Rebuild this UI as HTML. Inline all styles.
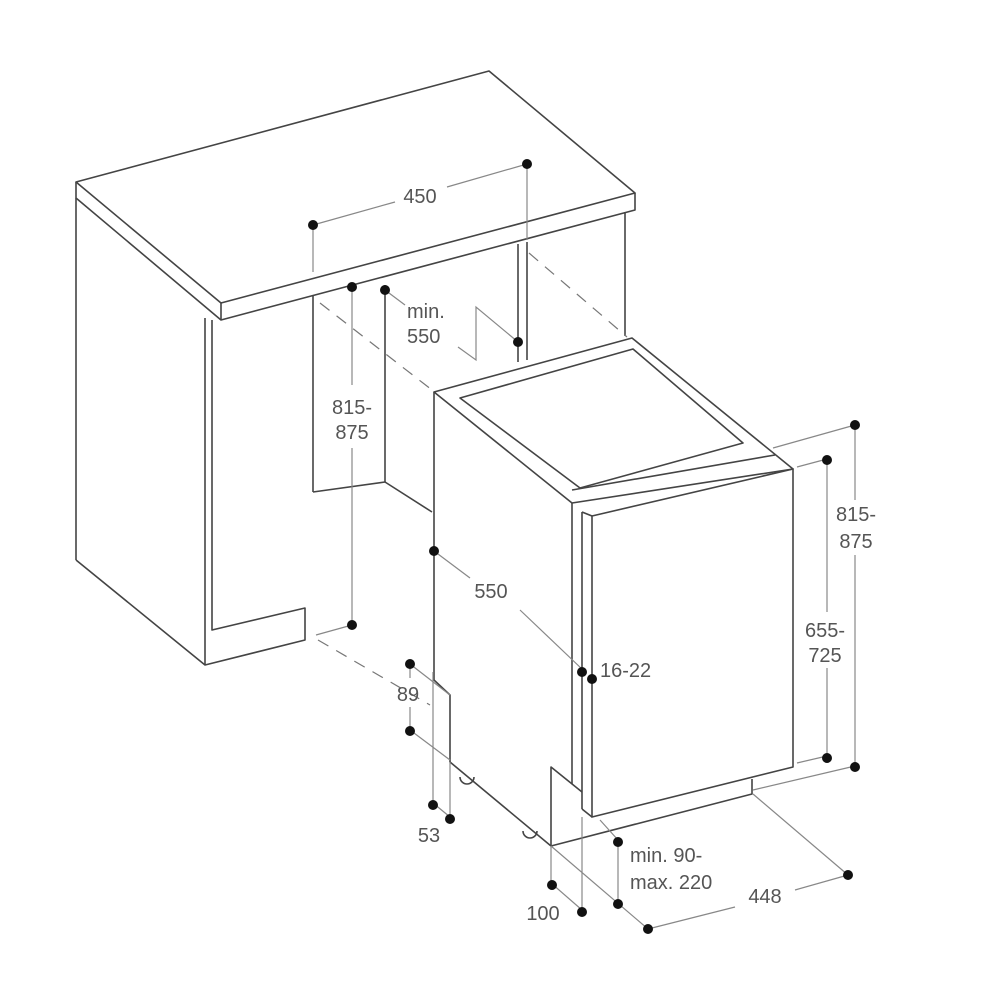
<!DOCTYPE html>
<html><head><meta charset="utf-8"><style>
html,body{margin:0;padding:0;background:#fff}
svg{display:block}
text{font-family:"Liberation Sans",sans-serif;font-size:20px;fill:#555}
</style></head><body>
<svg width="989" height="1000" viewBox="0 0 989 1000" xmlns="http://www.w3.org/2000/svg">
<g fill="none" stroke="#444" stroke-width="1.6" stroke-linejoin="round">
<polygon points="76,182 489,71 635,193 221,303" fill="#fff"/>
<polyline points="76,182 76,198 221,320 635,210 635,193"/>
<line x1="221" y1="303" x2="221" y2="320"/>
<line x1="76" y1="198" x2="76" y2="560"/>
<polyline points="76,560 205,665 305,640 305,608 212,630 212,320"/>
<line x1="205" y1="318" x2="205" y2="665"/>
<line x1="313" y1="295" x2="313" y2="492"/>
<line x1="385" y1="285" x2="385" y2="482"/>
<polyline points="313,492 385,482 432,512"/>
<line x1="518" y1="244" x2="518" y2="362"/>
<line x1="527" y1="242" x2="527" y2="360"/>
<line x1="625" y1="212" x2="625" y2="336"/>
<polygon points="434,392 632,338 793,469 572,503" fill="#fff"/>
<polygon points="460,398 633,349 743,443 580,488"/>
<line x1="572" y1="490" x2="775" y2="455"/>
<polyline points="434,392 434,680 450,695 450,762 551,846 752,794 752,779"/>
<line x1="572" y1="503" x2="572" y2="784"/>
<polyline points="582,512 582,809"/>
<polygon points="592,516 793,469 793,767 592,817"/>
<line x1="582" y1="512" x2="592" y2="516"/>
<line x1="582" y1="809" x2="592" y2="817"/>
<polyline points="551,846 551,767 582,792"/>
<path d="M460,777 a7,7 0 0 0 14,0"/>
<path d="M523,831 a7,7 0 0 0 14,0"/>
</g>
<g stroke="#777" stroke-width="1.2" stroke-dasharray="12,9" fill="none">
<line x1="320" y1="303" x2="432" y2="390"/>
<line x1="529" y1="253" x2="627" y2="337"/>
<line x1="318" y1="640" x2="430" y2="705"/>
</g>
<g stroke="#888" stroke-width="1.2" fill="none">
<line x1="313" y1="225" x2="395" y2="202"/><line x1="447" y1="187" x2="527" y2="164"/>
<line x1="313" y1="225" x2="313" y2="272"/>
<line x1="527" y1="164" x2="527" y2="240"/>
<line x1="352" y1="287" x2="352" y2="385"/><line x1="352" y1="448" x2="352" y2="625"/>
<line x1="316" y1="635" x2="352" y2="625"/>
<line x1="385" y1="290" x2="405" y2="305"/>
<polyline points="458,347 476,360 476,307 518,342"/>
<line x1="434" y1="551" x2="470" y2="578"/><line x1="520" y1="610" x2="583" y2="670"/>
<line x1="773" y1="448" x2="855" y2="425"/>
<line x1="797" y1="467" x2="827" y2="459"/>
<line x1="797" y1="763" x2="827" y2="756"/>
<line x1="753" y1="790" x2="855" y2="766"/>
<line x1="855" y1="425" x2="855" y2="500"/><line x1="855" y1="555" x2="855" y2="766"/>
<line x1="827" y1="459" x2="827" y2="612"/><line x1="827" y1="668" x2="827" y2="756"/>
<line x1="410" y1="664" x2="410" y2="678"/><line x1="410" y1="707" x2="410" y2="730"/>
<line x1="410" y1="664" x2="450" y2="695"/>
<line x1="410" y1="730" x2="450" y2="760"/>
<line x1="433" y1="672" x2="433" y2="803"/>
<line x1="450" y1="762" x2="450" y2="817"/>
<line x1="433" y1="803" x2="450" y2="817"/>
<line x1="551" y1="846" x2="551" y2="883"/>
<line x1="582" y1="817" x2="582" y2="910"/>
<line x1="551" y1="883" x2="582" y2="910"/>
<line x1="618" y1="840" x2="618" y2="902"/>
<line x1="600" y1="820" x2="618" y2="840"/>
<line x1="551" y1="846" x2="648" y2="929"/>
<line x1="753" y1="794" x2="848" y2="875"/>
<line x1="648" y1="929" x2="735" y2="907"/><line x1="795" y1="890" x2="848" y2="875"/>
</g>
<g fill="#111">
<circle cx="313" cy="225" r="5"/><circle cx="527" cy="164" r="5"/>
<circle cx="352" cy="287" r="5"/><circle cx="352" cy="625" r="5"/>
<circle cx="385" cy="290" r="5"/><circle cx="518" cy="342" r="5"/>
<circle cx="434" cy="551" r="5"/><circle cx="582" cy="672" r="5"/><circle cx="592" cy="679" r="5"/>
<circle cx="855" cy="425" r="5"/><circle cx="855" cy="767" r="5"/>
<circle cx="827" cy="460" r="5"/><circle cx="827" cy="758" r="5"/>
<circle cx="410" cy="664" r="5"/><circle cx="410" cy="731" r="5"/>
<circle cx="433" cy="805" r="5"/><circle cx="450" cy="819" r="5"/>
<circle cx="552" cy="885" r="5"/><circle cx="582" cy="912" r="5"/>
<circle cx="618" cy="842" r="5"/><circle cx="618" cy="904" r="5"/>
<circle cx="648" cy="929" r="5"/><circle cx="848" cy="875" r="5"/>
</g>
<text x="420" y="203" text-anchor="middle">450</text>
<text x="407" y="318">min.</text>
<text x="407" y="343">550</text>
<text x="352" y="414" text-anchor="middle">815-</text>
<text x="352" y="439" text-anchor="middle">875</text>
<text x="491" y="598" text-anchor="middle">550</text>
<text x="600" y="677">16-22</text>
<text x="856" y="521" text-anchor="middle">815-</text>
<text x="856" y="548" text-anchor="middle">875</text>
<text x="825" y="637" text-anchor="middle">655-</text>
<text x="825" y="662" text-anchor="middle">725</text>
<text x="408" y="701" text-anchor="middle">89</text>
<text x="429" y="842" text-anchor="middle">53</text>
<text x="543" y="920" text-anchor="middle">100</text>
<text x="630" y="862">min. 90-</text>
<text x="630" y="889">max. 220</text>
<text x="765" y="903" text-anchor="middle">448</text>
</svg>
</body></html>
